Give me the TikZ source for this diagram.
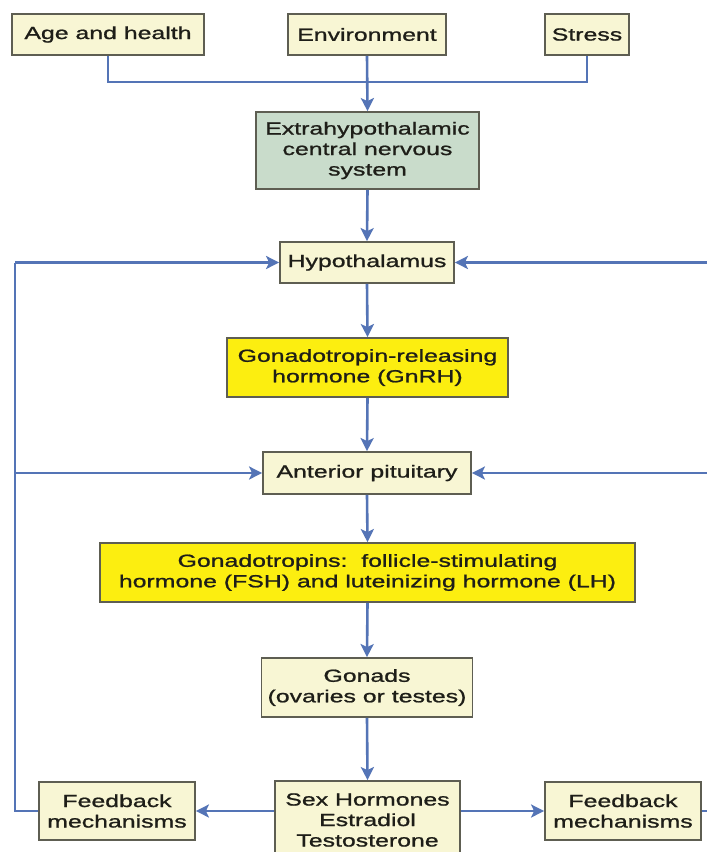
\documentclass[tikz,border=0pt]{standalone}
\usepackage{fontspec}
\setmainfont{Liberation Sans}[FakeStretch=1.42,FakeBold=1.1]
\usetikzlibrary{arrows.meta,calc}
\definecolor{cream}{HTML}{F8F6D4}
\definecolor{sage}{HTML}{C9DCCB}
\definecolor{gold}{HTML}{FCEE10}
\definecolor{edge}{HTML}{5E5E52}
\definecolor{flow}{HTML}{5474B6}
\definecolor{ink}{HTML}{1E1E18}
\begin{document}
\begin{tikzpicture}[x=1pt,y=-1pt,
  box/.style={draw=edge,line width=1.8pt,fill=cream,text=ink,align=center,
    inner sep=0pt,font=\fontsize{17.5}{20.5}\selectfont},
  conn/.style={draw=flow,line width=2.6pt},
  arr/.style={conn,-{Stealth[length=13pt,width=13pt,inset=3pt]}}]
\useasboundingbox (0,0) rectangle (707,852);
\fill[white] (0,0) rectangle (707,852);
% nodes
\node[box,minimum width=192pt,minimum height=41pt] (age) at (108,34.5) {Age and health};
\node[box,minimum width=158pt,minimum height=41pt] (env) at (367,34.5) {Environment};
\node[box,minimum width=84pt,minimum height=41pt] (stress) at (587,34.5) {Stress};
\node[box,fill=sage,minimum width=223pt,minimum height=77pt] (extra) at (367.5,150.5) {Extrahypothalamic\\central nervous\\system};
\node[box,minimum width=174pt,minimum height=41pt] (hyp) at (367,262.5) {Hypothalamus};
\node[box,fill=gold,minimum width=281pt,minimum height=59pt] (gnrh) at (367.5,367.5) {Gonadotropin-releasing\\hormone (GnRH)};
\node[box,minimum width=208pt,minimum height=42pt] (ant) at (367,473) {Anterior pituitary};
\node[box,fill=gold,minimum width=535pt,minimum height=59pt] (gtr) at (367.5,572.5) {Gonadotropins:\ \ follicle-stimulating\\hormone (FSH) and luteinizing hormone (LH)};
\node[box,minimum width=211pt,minimum height=59pt] (gonads) at (367,687.5) {Gonads\\(ovaries or testes)};
\node[box,minimum width=185pt,minimum height=78pt] (sex) at (367.5,820) {Sex Hormones\\Estradiol\\Testosterone};
\node[box,minimum width=156pt,minimum height=58pt] (fbl) at (117,811) {Feedback\\mechanisms};
\node[box,minimum width=156pt,minimum height=58pt] (fbr) at (623,811) {Feedback\\mechanisms};
% junction coordinates
\coordinate (join) at (367,82);
\coordinate (lbot) at (15,811);
\coordinate (rbot) at (712,811);
% top merge
\draw[conn] (age.south) |- (join);
\draw[conn] (stress.south) |- (join);
\draw[arr] (env.south) -- (extra.north);
% main chain
\draw[arr] (extra.south) -- (hyp.north);
\draw[arr] (hyp.south) -- (gnrh.north);
\draw[arr] (gnrh.south) -- (ant.north);
\draw[arr] (ant.south) -- (gtr.north);
\draw[arr] (gtr.south) -- (gonads.north);
\draw[arr] (gonads.south) -- (sex.north);
% sex hormones to feedback
\draw[arr] (sex.west |- fbl.east) -- (fbl.east);
\draw[arr] (sex.east |- fbr.west) -- (fbr.west);
% left feedback loop
\draw[conn] (fbl.west) -- (lbot) -- (lbot |- hyp.west);
\draw[arr] (lbot |- hyp.west) -- (hyp.west);
\draw[arr] (lbot |- ant.west) -- (ant.west);
% right feedback loop
\draw[conn] (fbr.east) -- (rbot) -- (rbot |- hyp.east);
\draw[arr] (rbot |- hyp.east) -- (hyp.east);
\draw[arr] (rbot |- ant.east) -- (ant.east);
\end{tikzpicture}
\end{document}
